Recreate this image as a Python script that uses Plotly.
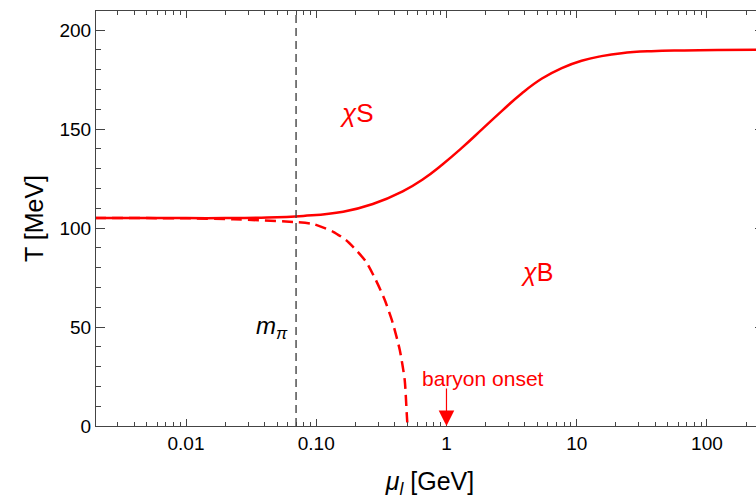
import plotly.graph_objects as go
import numpy as np

# Solid line (chi S / chi B boundary)
solid_mu = [0.002, 0.005, 0.01, 0.02, 0.035, 0.0796, 0.161, 0.272, 0.461, 0.656, 0.931, 1.325, 1.88,
            2.68, 3.80, 5.41, 7.68, 10.9, 15.5, 22.1, 37.4, 66.7, 120, 280]
solid_T = [105.0, 105.0, 105.0, 105.0, 105.2, 106.1, 108.2, 112.1, 118.5, 124.5, 132.1, 140.7, 149.9,
           159.3, 168.1, 175.5, 180.8, 184.5, 186.8, 188.3, 189.3, 189.7, 189.9, 190.0]

# Dashed line
dash_mu = [0.002, 0.005, 0.01, 0.0232, 0.0729, 0.0948, 0.135, 0.169, 0.202, 0.241, 0.287,
           0.336, 0.387, 0.438, 0.478, 0.495, 0.502]
dash_T = [105.0, 105.0, 104.9, 104.4, 102.9, 102.0, 98.1, 93.9, 88.9, 83.0, 73.7,
          63.6, 52.0, 38.4, 23.2, 6.6, 0.0]

m_pi = 0.07
baryon_onset = 1.0

x_tickvals = [0.01, 0.1, 1, 10, 100]
x_ticktext = ["0.01", "0.10", "1", "10", "100"]
x_minor = [m * 10.0**e for e in range(-3, 3) for m in range(2, 10)]
y_tickvals = [0, 50, 100, 150, 200]

red = "#ff0000"
axcol = "#444444"

fig = go.Figure()
fig.add_trace(go.Scatter(x=solid_mu, y=solid_T, mode="lines",
                         line=dict(color=red, width=2.5, shape="spline", smoothing=1.3),
                         showlegend=False, hoverinfo="skip"))
fig.add_trace(go.Scatter(x=dash_mu, y=dash_T, mode="lines",
                         line=dict(color=red, width=2.5, dash="11px,6px", shape="spline", smoothing=0.6),
                         showlegend=False, hoverinfo="skip"))
fig.add_trace(go.Scatter(x=[m_pi, m_pi], y=[0, 215], mode="lines",
                         line=dict(color=axcol, width=1.4, dash="8px,5px"),
                         showlegend=False, hoverinfo="skip"))

font = "Liberation Sans, Arial, sans-serif"

fig.add_annotation(x=np.log10(0.205), y=158, xref="x", yref="y", text="<i>χ</i>S", showarrow=False,
                   font=dict(family=font, size=26, color=red))
fig.add_annotation(x=np.log10(4.95), y=78, xref="x", yref="y", text="<i>χ</i>B", showarrow=False,
                   font=dict(family=font, size=25, color=red))
fig.add_annotation(x=np.log10(0.0455), y=50, xref="x", yref="y", text="<i>m</i><sub><i>π</i></sub>",
                   showarrow=False, font=dict(family=font, size=24, color="black"))
fig.add_annotation(x=np.log10(baryon_onset), y=0, xref="x", yref="y", text="",
                   showarrow=True, ax=0, ay=-39, arrowhead=2, arrowsize=2.6, arrowwidth=1.2,
                   arrowcolor=red, standoff=0)
fig.add_annotation(x=0.28, y=24.2, xref="x", yref="y", text="baryon onset", showarrow=False,
                   font=dict(family=font, size=21, color=red))

fig.update_xaxes(type="log", range=[-2.691, 2.438], automargin=False,
                 tickvals=x_tickvals, ticktext=x_ticktext,
                 ticks="inside", ticklen=7, tickwidth=1, tickcolor=axcol,
                 minor=dict(tickvals=x_minor, ticks="inside", ticklen=4, tickcolor=axcol, tickwidth=1, showgrid=False),
                 showline=True, linecolor=axcol, linewidth=1, mirror="ticks",
                 showgrid=False, zeroline=False,
                 tickfont=dict(family=font, size=19, color="black"),
                 title=dict(text="<i>μ</i><sub><i>l</i></sub> [GeV]", standoff=19,
                            font=dict(family=font, size=25, color="black")))
fig.update_yaxes(range=[0, 209.6], tickvals=y_tickvals, automargin=False,
                 ticks="inside", ticklen=9, tickwidth=1, tickcolor=axcol,
                 minor=dict(dtick=10, ticks="inside", ticklen=5, tickcolor=axcol, tickwidth=1, showgrid=False),
                 showline=True, linecolor=axcol, linewidth=1, mirror="ticks",
                 showgrid=False, zeroline=False,
                 tickfont=dict(family=font, size=19, color="black"),
                 title=dict(text="T [MeV]", standoff=8,
                            font=dict(family=font, size=25, color="black")))

fig.update_layout(width=764, height=500, margin=dict(l=96, r=0, t=11, b=74),
                  plot_bgcolor="white", paper_bgcolor="white")

fig.write_html("out.html", config={"displayModeBar": False},
               post_script="document.body.style.margin='0';document.body.style.overflow='hidden';")
